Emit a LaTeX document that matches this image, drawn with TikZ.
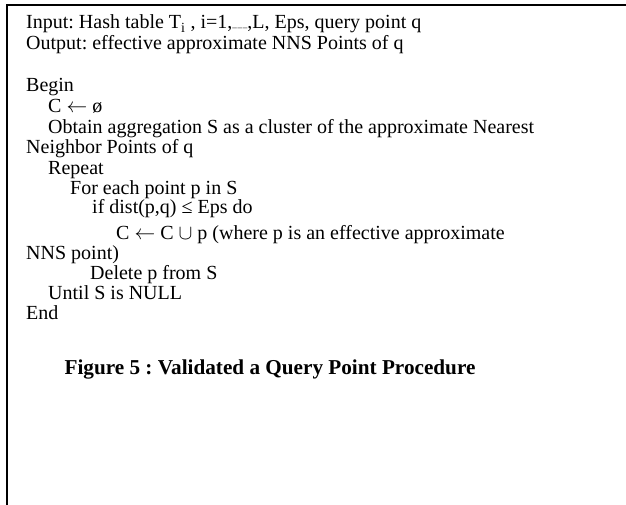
\documentclass[tikz,border=0pt]{standalone}
\usepackage{fontspec}
\setmainfont{Liberation Serif}
\begin{document}
\frenchspacing
\begin{tikzpicture}[x=1pt,y=-1pt,
  txt/.style={anchor=base west,inner sep=0pt,text height=13pt,text depth=3pt,font=\fontsize{20}{21}\selectfont},
  captiontext/.style={anchor=base,inner sep=0pt,font=\fontsize{21.2}{24}\selectfont\bfseries}]
\useasboundingbox (0,0) rectangle (626,505);
\draw[line width=2pt] (626,5) -- (7,5) -- (7,505);
\node[txt] (l1) at (26,29) {Input: Hash table T\textsubscript{i} , i=1,{\fontsize{9}{9}\selectfont\raisebox{1.5pt}{\_\hspace{0.8pt}\_\hspace{0.8pt}\_}},L, Eps, query point q};
\node[txt] (l2) at (26,50) {Output: effective approximate NNS Points of q};
\node[txt] (l3) at (26,92) {Begin};
\node[txt] (l4) at (48,113) {C $\leftarrow$ ø};
\node[txt] (l5) at (48,134) {Obtain aggregation S as a cluster of the approximate Nearest};
\node[txt] (l6) at (26,154) {Neighbor Points of q};
\node[txt] (l7) at (48,175) {Repeat};
\node[txt] (l8) at (70,195) {For each point p in S};
\node[txt] (l9) at (92,214) {if dist(p,q) ≤ Eps do};
\node[txt] (l10) at (116,239) {C $\leftarrow$ C $\cup$ p (where p is an effective approximate};
\node[txt] (l11) at (26,259) {NNS point)};
\node[txt] (l12) at (90,279) {Delete p from S};
\node[txt] (l13) at (48,299) {Until S is NULL};
\node[txt] (l14) at (26,319) {End};
\node[captiontext] (fig) at (270,374) {Figure 5 : Validated a Query Point Procedure};
\end{tikzpicture}
\end{document}
